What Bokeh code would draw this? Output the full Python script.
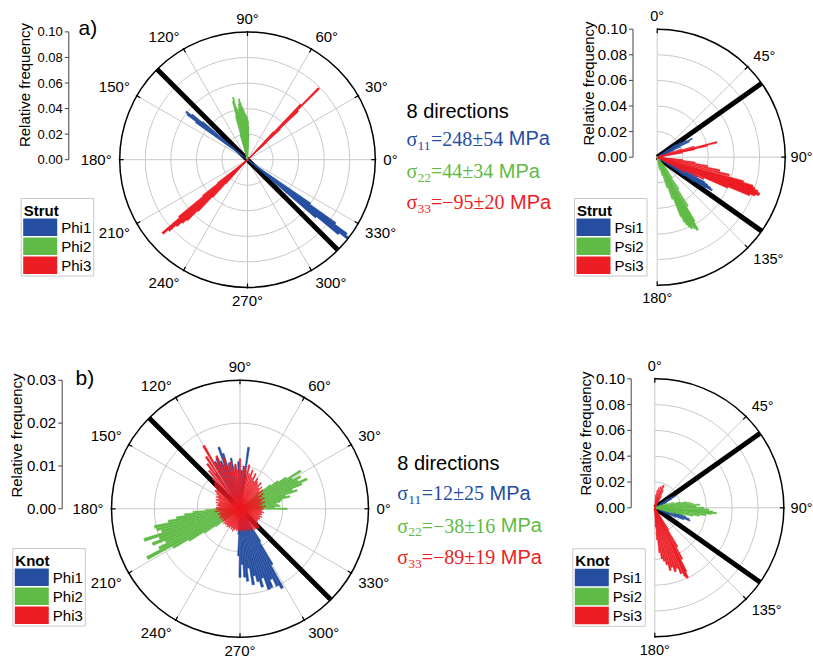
import math
from bokeh.plotting import figure
from bokeh.models import Range1d
from bokeh.core.properties import value
from bokeh.embed import file_html
from bokeh.resources import INLINE

# ======================= DATA =======================
# a) Strut - Phi (deg, anticlockwise from 0 deg at the right), relative frequency
a_phi1_ang = [140, 141, 142, 143, 144, 320, 321, 322, 323, 324, 325]
a_phi1_frq = [0.046, 0.056, 0.061, 0.059, 0.050, 0.070, 0.092, 0.100, 0.097, 0.085, 0.060]
a_phi2_ang = [87, 88, 89, 90, 91, 92, 93, 94, 95, 96, 97, 98, 99, 100, 101, 102, 103, 104, 105, 106]
a_phi2_frq = [0.020, 0.026, 0.030, 0.032, 0.034, 0.035, 0.036, 0.038, 0.040, 0.042,
              0.045, 0.048, 0.044, 0.040, 0.038, 0.042, 0.050, 0.047, 0.035, 0.020]
a_phi3_ang = [42, 43, 44, 45, 46, 47, 218, 219, 220, 221, 222, 223, 224, 225, 226, 227, 228]
a_phi3_frq = [0.020, 0.035, 0.055, 0.079, 0.060, 0.030, 0.030, 0.045, 0.070, 0.088,
              0.083, 0.076, 0.071, 0.067, 0.056, 0.040, 0.025]

# b) Knot - Phi
b_phi1_ang = [80, 82, 85, 88, 92, 96, 100, 104, 107, 109, 112, 115, 118, 124,
              266, 268, 270, 272, 274, 276, 278, 280, 282, 284, 286, 288, 290, 292,
              294, 296, 298, 300, 302]
b_phi1_frq = [0.008, 0.0145, 0.010, 0.009, 0.011, 0.010, 0.012, 0.011, 0.0135, 0.0152,
              0.012, 0.013, 0.0125, 0.010,
              0.006, 0.011, 0.016, 0.013, 0.016, 0.017, 0.014, 0.018, 0.016, 0.0175,
              0.019, 0.017, 0.020, 0.0198, 0.018, 0.020, 0.021, 0.015, 0.009]
b_phi2_ang = [0, 2, 4, 6, 8, 10, 12, 14, 16, 18, 20, 22, 24, 26, 28, 30, 32, 34, 36, 38, 40,
              180, 182, 184, 186, 188, 190, 192, 194, 196, 198, 200, 202, 204, 206, 208,
              210, 212, 214, 216]
b_phi2_frq = [0.011, 0.008, 0.0094, 0.009, 0.0085, 0.0095, 0.010, 0.012, 0.011, 0.014,
              0.013, 0.0155, 0.0171, 0.015, 0.016, 0.014, 0.0167, 0.013, 0.011, 0.009, 0.007,
              0.006, 0.008, 0.011, 0.013, 0.015, 0.017, 0.0204, 0.020, 0.019, 0.0235,
              0.020, 0.022, 0.019, 0.021, 0.0245, 0.018, 0.014, 0.010, 0.007]
b_phi3_ang = list(range(0, 360, 3))
b_phi3_frq = [0.0055, 0.0050, 0.0060, 0.0045, 0.0052, 0.0060, 0.0048, 0.0055, 0.0062, 0.0050,
              0.0058, 0.0065, 0.0052, 0.0068, 0.0060, 0.0072, 0.0065, 0.0078, 0.0070, 0.0075,
              0.0082, 0.0072, 0.0090, 0.0078, 0.0095, 0.0085, 0.0105, 0.0090, 0.0098, 0.0088,
              0.0117, 0.0092, 0.0105, 0.0098, 0.0112, 0.0102, 0.0125, 0.0110, 0.0135, 0.0120,
              0.0170, 0.0145, 0.0130, 0.0115, 0.0095, 0.0085, 0.0080, 0.0070, 0.0072, 0.0065,
              0.0058, 0.0062, 0.0055, 0.0060, 0.0050, 0.0058, 0.0052, 0.0055, 0.0048, 0.0055,
              0.0055, 0.0050, 0.0058, 0.0045, 0.0050, 0.0052, 0.0046, 0.0049, 0.0052, 0.0045,
              0.0049, 0.0044, 0.0050, 0.0046, 0.0052, 0.0048, 0.0050, 0.0047, 0.0052, 0.0049,
              0.0050, 0.0046, 0.0052, 0.0048, 0.0055, 0.0050, 0.0047, 0.0052, 0.0049, 0.0051,
              0.0050, 0.0053, 0.0048, 0.0055, 0.0050, 0.0052, 0.0056, 0.0050, 0.0054, 0.0058,
              0.0050, 0.0055, 0.0060, 0.0058, 0.0062, 0.0064, 0.0058, 0.0052, 0.0050, 0.0049,
              0.0049, 0.0052, 0.0050, 0.0055, 0.0048, 0.0053, 0.0050, 0.0056, 0.0052, 0.0050]

# c) Strut - Psi (deg, clockwise from 0 deg at the top)
c_psi1_ang = [56, 58, 60, 62, 64, 66, 68, 70, 112, 114, 116, 118, 119, 120, 121, 122, 123, 124]
c_psi1_frq = [0.018, 0.022, 0.026, 0.031, 0.028, 0.020, 0.014, 0.010,
              0.020, 0.030, 0.035, 0.042, 0.045, 0.048, 0.050, 0.045, 0.035, 0.025]
c_psi2_ang = [140, 142, 144, 146, 148, 150, 151, 152, 153, 154, 155, 156, 157, 158, 160, 162, 165, 170]
c_psi2_frq = [0.010, 0.015, 0.020, 0.030, 0.045, 0.058, 0.065, 0.063, 0.060, 0.062,
              0.060, 0.058, 0.055, 0.050, 0.035, 0.025, 0.015, 0.010]
c_psi3_ang = [72, 74, 76, 77, 78, 80, 96, 98, 100, 102, 104, 106, 107, 108, 109, 110, 111, 112, 113, 115, 118]
c_psi3_frq = [0.020, 0.030, 0.048, 0.040, 0.030, 0.020, 0.020, 0.030, 0.040, 0.050,
              0.058, 0.070, 0.078, 0.080, 0.083, 0.085, 0.082, 0.078, 0.060, 0.040, 0.025]

# d) Knot - Psi
d_psi1_ang = [56, 58, 60, 62, 64, 100, 104, 106, 108, 110, 112, 114, 116]
d_psi1_frq = [0.012, 0.016, 0.019, 0.015, 0.010, 0.015, 0.022, 0.025, 0.028, 0.029, 0.024, 0.018, 0.012]
d_psi2_ang = [70, 74, 78, 80, 82, 84, 86, 88, 90, 92, 94, 95, 96, 98, 100, 102, 104, 106]
d_psi2_frq = [0.010, 0.015, 0.020, 0.025, 0.028, 0.030, 0.035, 0.032, 0.038, 0.042,
              0.045, 0.048, 0.044, 0.040, 0.035, 0.030, 0.022, 0.015]
d_psi3_ang = [4, 8, 12, 16, 20, 22, 26, 30, 148, 150, 152, 154, 155, 156, 158, 160, 162,
              164, 166, 168, 170, 172, 174, 176, 178]
d_psi3_frq = [0.010, 0.014, 0.016, 0.017, 0.018, 0.019, 0.015, 0.010, 0.020, 0.035,
              0.045, 0.055, 0.060, 0.058, 0.055, 0.050, 0.052, 0.048, 0.050, 0.045,
              0.042, 0.040, 0.035, 0.025, 0.015]

# reference stress directions (thick black lines)
full_black_dirs = [135, 315]
half_black_dirs = [54.74, 125.26]

# tick labels
full_angle_ticks = [0, 30, 60, 90, 120, 150, 180, 210, 240, 270, 300, 330]
half_angle_ticks = [0, 45, 90, 135, 180]
freq_ticks_010 = [0.00, 0.02, 0.04, 0.06, 0.08, 0.10]
freq_ticks_003 = [0.00, 0.01, 0.02, 0.03]

# stresses (MPa)
n_directions = 8
a_stress_mean = [248, 44, -95]
a_stress_err = [54, 34, 20]
b_stress_mean = [12, -38, -89]
b_stress_err = [25, 16, 19]
stress_idx = ["11", "22", "33"]

phi_names = ["Phi1", "Phi2", "Phi3"]
psi_names = ["Psi1", "Psi2", "Psi3"]

# ======================= STYLE / LAYOUT =======================
BLUE, GREEN, RED = "#254EA1", "#60BB46", "#ED1D24"
COLORS = [BLUE, GREEN, RED]
GRID = "#c8c8c8"
AXC = "#444444"
SANS = "Liberation Sans"
SERIF = "Liberation Serif"
W, H = 813, 661


def Y(py):
    return H - py


p = figure(width=W, height=H, x_range=Range1d(0, W), y_range=Range1d(0, H),
           output_backend="svg", toolbar_location=None, min_border=0,
           x_axis_location=None, y_axis_location=None, outline_line_color=None,
           background_fill_color="white", border_fill_color="white")
p.xgrid.visible = False
p.ygrid.visible = False

SANS_W = {'.': .278, '°': .4, ' ': .278, 'M': .833, 'P': .667, 'a': .556, ')': .333}
SERIF_W = {'=': .564, '±': .549, '−': .564, 'σ': .55}
CAP = {SANS: 0.358, SERIF: 0.33}   # half cap-height (em)


def sans_w(s, size):
    return sum(SANS_W.get(ch, .556) for ch in s) * size


def serif_w(s, size):
    return sum(SERIF_W.get(ch, .5) for ch in s) * size


def txt(x, base, s, size, font=SANS, color="black", align="left", bold=False):
    """base = alphabetic baseline (page px); drawn centred on the cap height."""
    yc = base - CAP[font] * size
    p.text(x=[x], y=[Y(yc)], text=[s], text_font=value(font),
           text_font_size=value(f"{size}px"), text_color=color, text_align=align,
           text_baseline="middle", text_font_style="bold" if bold else "normal")


def to_math(a, half):
    return 90.0 - a if half else a


def panel(P, series, ticks, black_dirs):
    cx, cy, R, fmax, half = P["cx"], P["cy"], P["R"], P["fmax"], P["half"]
    s = R / fmax
    rr = [f * s for f in P["rings"]]
    n = len(rr)
    if half:
        p.arc(x=[cx] * n, y=[Y(cy)] * n, radius=rr, start_angle=-math.pi / 2,
              end_angle=math.pi / 2, line_color=GRID, line_width=1)
        spokes = [t for t in ticks if 0 < t < 180]
        p.segment(x0=[cx], y0=[Y(cy - R)], x1=[cx], y1=[Y(cy + R)], line_color=GRID, line_width=1)
    else:
        p.circle(x=[cx] * n, y=[Y(cy)] * n, radius=rr, fill_color=None,
                 line_color=GRID, line_width=1)
        spokes = ticks
    ms = [math.radians(to_math(t, half)) for t in spokes]
    p.segment(x0=[cx] * len(ms), y0=[Y(cy)] * len(ms),
              x1=[cx + R * math.cos(m) for m in ms], y1=[Y(cy) + R * math.sin(m) for m in ms],
              line_color=GRID, line_width=1)
    # stress directions
    mb = [math.radians(to_math(t, half)) for t in black_dirs]
    p.segment(x0=[cx] * len(mb), y0=[Y(cy)] * len(mb),
              x1=[cx + R * math.cos(m) for m in mb], y1=[Y(cy) + R * math.sin(m) for m in mb],
              line_color="black", line_width=5)
    # rose bars
    hw = math.radians(P["bin"] / 2)
    for (angs, frqs), col in zip(series, COLORS):
        mid = [math.radians(to_math(a, half)) for a in angs]
        k = len(mid)
        p.wedge(x=[cx] * k, y=[Y(cy)] * k, radius=[f * s for f in frqs],
                start_angle=[m - hw for m in mid], end_angle=[m + hw for m in mid],
                fill_color=col, line_color=col, line_width=0.5)
    # outer frame
    if half:
        p.arc(x=[cx], y=[Y(cy)], radius=[R], start_angle=-math.pi / 2, end_angle=math.pi / 2,
              line_color="black", line_width=1.5)
    else:
        p.circle(x=[cx], y=[Y(cy)], radius=[R], fill_color=None, line_color="black", line_width=1.5)
    mt = [math.radians(to_math(t, half)) for t in ticks]
    p.segment(x0=[cx + (R - 4) * math.cos(m) for m in mt], y0=[Y(cy) + (R - 4) * math.sin(m) for m in mt],
              x1=[cx + (R + 1) * math.cos(m) for m in mt], y1=[Y(cy) + (R + 1) * math.sin(m) for m in mt],
              line_color="black", line_width=1.2)
    # angle labels
    gap = 8
    for t in ticks:
        m = math.radians(to_math(t, half))
        c, sn = math.cos(m), math.sin(m)
        ax = cx + (R + gap) * c
        ay = cy - (R + gap) * sn
        lab = f"{t}°"
        fs = P["lab_fs"]
        if c > 0.2:
            align = "left"
        elif c < -0.2:
            align = "right"
        else:
            align = "center"
        if align == "left" and ax + sans_w(lab, fs) > W - 1:
            ax = W - 1 - sans_w(lab, fs)
        cap = 0.716 * fs
        if sn > 0.2:
            base = ay
        elif sn < -0.2:
            base = ay + cap
        else:
            base = ay + cap / 2
        base = min(base, H - 6)
        txt(ax, base, lab, fs, align=align)


def freq_axis(P, ax_x, ticks, size, lab_xy):
    s = P["R"] / P["fmax"]
    cy = P["cy"]
    ys = [cy - t * s for t in ticks]
    p.segment(x0=[ax_x], y0=[Y(ys[0])], x1=[ax_x], y1=[Y(ys[-1])], line_color=AXC, line_width=1)
    p.segment(x0=[ax_x - 4] * len(ys), y0=[Y(y) for y in ys], x1=[ax_x] * len(ys),
              y1=[Y(y) for y in ys], line_color=AXC, line_width=1)
    for t, y in zip(ticks, ys):
        txt(ax_x - 6, y + 0.358 * size, f"{t:.2f}", size, align="right")
    p.text(x=[lab_xy[0]], y=[Y(lab_xy[1])], text=["Relative frequency"], angle=math.pi / 2,
           text_font=value(SANS), text_font_size=value("15px"), text_color="black",
           text_align="center", text_baseline="middle")


def legend(left, top, title, names):
    p.quad(left=[left], right=[left + 72.5], top=[Y(top)], bottom=[Y(top + 77.5)],
           fill_color="white", line_color="#c8c8c8", line_width=1)
    txt(left + 2.5, top + 16.9, title, 15, bold=True)
    for i, (nm, col) in enumerate(zip(names, COLORS)):
        t0 = top + 20 + i * 19
        p.quad(left=[left + 2], right=[left + 36], top=[Y(t0)], bottom=[Y(t0 + 17.5)],
               fill_color=col, line_color=None)
        txt(left + 40, t0 + 8.75 + 5.4, nm, 15)


def stress_block(x0, bases, means, errs):
    txt(x0, bases[0], f"{n_directions} directions", 20)
    for base, idx, mu, er, col in zip(bases[1:], stress_idx, means, errs, COLORS):
        x = x0
        txt(x, base, "σ", 20, font=SERIF, color=col)
        x += serif_w("σ", 20)
        txt(x, base + 4.5, idx, 13.5, font=SERIF, color=col)
        x += serif_w(idx, 13.5)
        body = "=" + (f"−{abs(mu)}" if mu < 0 else f"{mu}") + f"±{er}"
        txt(x, base, body, 20, font=SERIF, color=col)
        x += serif_w(body, 20) + sans_w(" ", 20)
        txt(x, base, "MPa", 20, color=col)


PA = dict(cx=247.0, cy=159.2, R=127.8, fmax=0.10, half=False, rings=[0.02, 0.04, 0.06, 0.08], bin=1.2, lab_fs=15)
PB = dict(cx=239.5, cy=508.3, R=128.5, fmax=0.03, half=False, rings=[0.01, 0.02], bin=1.8, lab_fs=15)
PC = dict(cx=656.7, cy=156.7, R=128.0, fmax=0.10, half=True, rings=[0.02, 0.04, 0.06, 0.08], bin=1.5, lab_fs=14.5)
PD = dict(cx=654.3, cy=507.3, R=129.0, fmax=0.10, half=True, rings=[0.02, 0.04, 0.06, 0.08], bin=1.6, lab_fs=14.5)

panel(PA, [(a_phi1_ang, a_phi1_frq), (a_phi2_ang, a_phi2_frq), (a_phi3_ang, a_phi3_frq)],
      full_angle_ticks, full_black_dirs)
panel(PB, [(b_phi1_ang, b_phi1_frq), (b_phi2_ang, b_phi2_frq), (b_phi3_ang, b_phi3_frq)],
      full_angle_ticks, full_black_dirs)
panel(PC, [(c_psi1_ang, c_psi1_frq), (c_psi2_ang, c_psi2_frq), (c_psi3_ang, c_psi3_frq)],
      half_angle_ticks, half_black_dirs)
panel(PD, [(d_psi1_ang, d_psi1_frq), (d_psi2_ang, d_psi2_frq), (d_psi3_ang, d_psi3_frq)],
      half_angle_ticks, half_black_dirs)

freq_axis(PA, 68.3, freq_ticks_010, 13, (24, 84.5))
freq_axis(PB, 61.7, freq_ticks_003, 15, (15.8, 435))
freq_axis(PC, 632.5, freq_ticks_010, 15, (587.5, 83))
freq_axis(PD, 630.7, freq_ticks_010, 15, (585, 433))

legend(20.7, 198, "Strut", phi_names)
legend(12.3, 548, "Knot", phi_names)
legend(574, 198, "Strut", psi_names)
legend(572.3, 548.3, "Knot", psi_names)

txt(78, 35, "a)", 21)
txt(75, 385, "b)", 21)

stress_block(406, [117.3, 145, 177.3, 208.3], a_stress_mean, a_stress_err)
stress_block(396.7, [470, 499.3, 531.7, 563.3], b_stress_mean, b_stress_err)

open("out.html", "w").write(file_html(p, INLINE))
